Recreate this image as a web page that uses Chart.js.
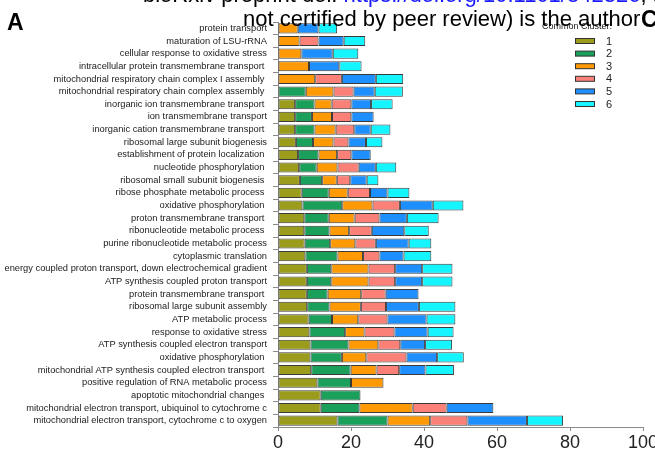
<!DOCTYPE html>
<html>
<head>
<meta charset="utf-8">
<script src="https://cdn.jsdelivr.net/npm/chart.js@4"></script>
<style>
  html, body { margin: 0; padding: 0; background: #fff; }
  #wrap { position: relative; width: 655px; height: 454px; overflow: hidden; }
  canvas { position: absolute; left: 0; top: 0; }
  .txt { position: absolute; font-family: "Liberation Sans", Arial, sans-serif; white-space: nowrap; color: #000; pointer-events: none; }
  .link { color: #1a1aff; }
</style>
</head>
<body>
<div id="wrap">
  <canvas id="c" width="655" height="454"></canvas>
  <div class="txt" style="left:143px; top:-18px; font-size:22px;">bioRxiv preprint doi: <span class="link">https://doi.org/10.1101/842326</span>, this version</div>
  <div class="txt" style="left:243px; top:6px; font-size:22px;">not certified by peer review) is the author</div>
  <div class="txt" style="left:7px; top:9px; font-size:23px; font-weight:bold;">A</div>
  <div class="txt" style="left:641px; top:6px; font-size:23px; font-weight:bold;">C</div>
</div>
<script>
// GO terms, top to bottom
const terms = [
  "protein transport",
  "maturation of LSU-rRNA",
  "cellular response to oxidative stress",
  "intracellular protein transmembrane transport ",
  "mitochondrial respiratory chain complex I assembly ",
  "mitochondrial respiratory chain complex assembly ",
  "inorganic ion transmembrane transport ",
  "ion transmembrane transport",
  "inorganic cation transmembrane transport ",
  "ribosomal large subunit biogenesis",
  "establishment of protein localization ",
  "nucleotide phosphorylation ",
  "ribosomal small subunit biogenesis ",
  "ribose phosphate metabolic process ",
  "oxidative phosphorylation ",
  "proton transmembrane transport ",
  "ribonucleotide metabolic process ",
  "purine ribonucleotide metabolic process",
  "cytoplasmic translation",
  "energy coupled proton transport, down electrochemical gradient",
  "ATP synthesis coupled proton transport",
  "protein transmembrane transport ",
  "ribosomal large subunit assembly",
  "ATP metabolic process",
  "response to oxidative stress",
  "ATP synthesis coupled electron transport",
  "oxidative phosphorylation ",
  "mitochondrial ATP synthesis coupled electron transport ",
  "positive regulation of RNA metabolic process",
  "apoptotic mitochondrial changes ",
  "mitochondrial electron transport, ubiquinol to cytochrome c",
  "mitochondrial electron transport, cytochrome c to oxygen"
];

// contribution of each common cluster to each term
const cluster1 = [null, null, null, null, null, null, 4.7, 4.7, 4.7, 4.9, 5.5, 5.8, 6.0, 6.5, 6.7, 7.2,
                  7.2, 7.3, 7.5, 7.9, 7.9, 7.9, 8.0, 8.4, 8.6, 8.9, 8.9, 9.1, 10.8, 11.7, 11.7, 16.3];
const cluster2 = [null, null, null, null, null, 7.6, 5.3, 4.6, 5.3, 4.7, 5.6, 4.8, 6.1, 7.4, 10.9, 6.7,
                  6.9, 7.0, 8.8, 6.7, 6.7, 5.7, 6.1, 6.4, 9.8, 10.4, 8.6, 10.8, 9.2, 10.9, 10.6, 13.7];
const cluster3 = [5.4, 5.9, 6.4, 8.5, 10.2, 7.6, 4.7, 5.5, 5.8, 5.6, 5.1, 5.7, 4.0, 5.2, 8.3, 7.1,
                  5.4, 6.9, 7.0, 10.2, 10.2, 9.2, 8.6, 7.2, 5.3, 8.2, 6.7, 7.1, 8.9, null, 14.6, 11.7];
const cluster4 = [null, 5.2, null, null, 7.3, 5.5, 5.4, 5.3, 5.1, 4.1, 3.9, 5.8, 3.7, 6.1, 7.5, 6.8,
                  6.2, 5.6, 4.5, 7.3, 7.3, 6.7, 6.9, 8.0, 8.2, 6.0, 11.0, 6.2, null, null, 9.3, 10.2];
const cluster5 = [5.7, 6.9, 8.6, 8.3, 9.3, 5.8, 5.4, 6.1, 4.5, 4.8, 5.3, 4.7, 4.5, 4.8, 9.0, 7.5,
                  8.9, 9.0, 6.6, 7.4, 7.4, 9.0, 9.0, 10.7, 9.1, 6.8, 8.4, 7.2, null, null, 12.8, 16.3];
const cluster6 = [5.1, 5.9, 7.0, 6.1, 7.5, 7.7, 5.9, null, 5.4, 4.5, null, 5.6, 3.2, 6.0, 8.4, 8.7,
                  6.7, 6.2, 7.6, 8.3, 8.3, null, 10.0, 7.9, 7.1, 7.4, 7.3, 7.8, null, null, null, 9.9];

const clusterNames = ["1", "2", "3", "4", "5", "6"];
const clusterColors = ["#9b9b1c", "#1ba05c", "#ff9a05", "#fa8078", "#1e8fff", "#15f5ff"];
const xTicks = [0, 20, 40, 60, 80, 100];

const series = [cluster1, cluster2, cluster3, cluster4, cluster5, cluster6];
const FONT = "'Liberation Sans', Arial, sans-serif";

// legend drawn inside the empty upper-right part of the plot
const clusterLegend = {
  id: 'clusterLegend',
  afterDraw(chart) {
    const ctx = chart.ctx;
    ctx.save();
    ctx.fillStyle = '#222';
    ctx.font = '9px ' + FONT;
    ctx.textBaseline = 'middle';
    ctx.textAlign = 'left';
    ctx.fillText('Common Cluster:', 542, 27);
    chart.data.datasets.forEach((ds, i) => {
      const y = 41 + i * 12.6;
      ctx.fillStyle = ds.backgroundColor;
      ctx.fillRect(575, y - 2.5, 20, 5);
      ctx.strokeStyle = '#333';
      ctx.lineWidth = 1;
      ctx.strokeRect(575.5, y - 2.5, 19, 5);
      ctx.fillStyle = '#222';
      ctx.font = '11px ' + FONT;
      ctx.fillText(ds.label, 606, y + 0.5);
    });
    ctx.restore();
  }
};

new Chart(document.getElementById('c'), {
  type: 'bar',
  data: {
    labels: terms,
    datasets: series.map((vals, i) => ({
      label: clusterNames[i],
      data: vals,
      backgroundColor: clusterColors[i],
      borderColor: '#3a3a3a',
      borderWidth: 1,
      borderSkipped: false,
      barPercentage: 0.8,
      categoryPercentage: 1.0
    }))
  },
  options: {
    indexAxis: 'y',
    responsive: false,
    animation: false,
    devicePixelRatio: 1,
    layout: { padding: { left: 0, right: 12, top: 22, bottom: 0 } },
    plugins: { legend: { display: false }, tooltip: { enabled: false } },
    scales: {
      x: {
        stacked: true,
        min: 0, max: 100,
        afterBuildTicks(scale) { scale.ticks = xTicks.map(v => ({ value: v })); },
        afterFit(scale) { scale.height = 27; scale.paddingLeft = 0; scale.paddingRight = 0; },
        grid: { display: true, drawOnChartArea: false, drawTicks: true, tickLength: 4, color: '#8a8a8a' },
        border: { display: true, color: '#8a8a8a', width: 1 },
        ticks: { color: '#222', font: { family: FONT, size: 18 }, padding: 1, maxRotation: 0 }
      },
      y: {
        stacked: true,
        afterFit(scale) { scale.width = 278; },
        grid: { display: true, drawOnChartArea: false, drawTicks: true, tickLength: 5, color: '#8a8a8a' },
        border: { display: true, color: '#8a8a8a', width: 1 },
        ticks: { color: '#1a1a1a', font: { family: FONT, size: 9.3 }, padding: 6, autoSkip: false }
      }
    }
  },
  plugins: [clusterLegend]
});
</script>
</body>
</html>
